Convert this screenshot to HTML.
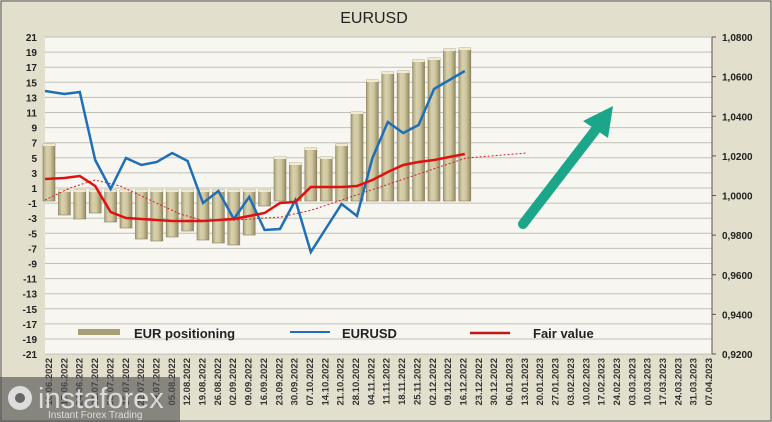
<!DOCTYPE html>
<html><head><meta charset="utf-8"><style>
body{margin:0;width:772px;height:422px;overflow:hidden;background:#fff}
svg{display:block}
text{font-family:"Liberation Sans",sans-serif}
</style></head><body>
<svg id="s" width="772" height="422" xmlns="http://www.w3.org/2000/svg">
<defs>
<linearGradient id="bg" x1="0" x2="1" y1="0" y2="0"><stop offset="0" stop-color="#a89f74"/><stop offset="0.3" stop-color="#d8d1ad"/><stop offset="0.6" stop-color="#cfc7a0"/><stop offset="1" stop-color="#948a60"/></linearGradient>
</defs>
<rect x="0" y="0" width="772" height="422" fill="#e2dfcc"/>
<rect x="1" y="1" width="770" height="420" fill="none" stroke="#555" stroke-width="1"/>
<rect x="45" y="37" width="667" height="317" fill="#f7f6f1"/>
<text x="374" y="23" font-size="16" text-anchor="middle" fill="#222">EURUSD</text>
<g id="grid"></g><g id="bars"></g>
<polyline id="trend" fill="none" stroke="#d42020" stroke-width="1" stroke-dasharray="2,2" points="45,200 70,188 95,180 120,186 150,200 180,214 205,221 235,220 281,217 312,210 466,158 527,153"/>
<polyline id="blue" fill="none" stroke="#1f6fb8" stroke-width="2.5"/>
<polyline id="red" fill="none" stroke="#e01010" stroke-width="2.5"/>
<g id="lab"></g>
<line x1="712" y1="37" x2="712" y2="354" stroke="#555"/>
<g>
<line x1="523" y1="224" x2="597" y2="128" stroke="#1ba68a" stroke-width="10" stroke-linecap="round"/>
<polygon points="613,106 583,121 608,138" fill="#1ba68a"/>
</g>
<rect x="78" y="329" width="42" height="6" fill="#a89f74"/>
<text x="134" y="338" font-size="13" font-weight="bold" fill="#222">EUR positioning</text>
<line x1="290" y1="332" x2="330" y2="332" stroke="#1f6fb8" stroke-width="2"/>
<text x="342" y="338" font-size="13" font-weight="bold" fill="#222">EURUSD</text>
<line x1="470" y1="333" x2="510" y2="333" stroke="#c01818" stroke-width="2.5"/>
<text x="533" y="338" font-size="13" font-weight="bold" fill="#222">Fair value</text>
<rect x="0" y="377" width="180" height="45" fill="#555" opacity="0.65"/>
<circle cx="20" cy="398" r="12" fill="#ddd"/><circle cx="20" cy="398" r="5" fill="#666"/>
<text x="38" y="408" font-size="29" fill="#e6e6e6" opacity="0.9">instaforex</text>
<text x="48" y="418" font-size="10" fill="#ddd">Instant Forex Trading</text>
</svg>
<script>
var ns="http://www.w3.org/2000/svg";
function el(p,t,a,tx){var e=document.createElementNS(ns,t);for(var k in a)e.setAttribute(k,a[k]);if(tx!=null)e.textContent=tx;document.getElementById(p).appendChild(e);return e;}
for(var k=0;k<=21;k++){var y=37+k*15.1;el("grid","line",{x1:45,x2:712,y1:y,y2:y,stroke:"#c0c0b8","stroke-width":1});
el("lab","text",{x:37,y:y+4,"font-size":10,"font-weight":"bold","text-anchor":"end",fill:"#222"},String(21-2*k));}
for(var k=0;k<=8;k++){var y=37+k*317/8;var v=(1.08-k*0.02).toFixed(4).replace(".",",");
el("lab","text",{x:722,y:y+4,"font-size":10,"font-weight":"bold",fill:"#222"},v);
el("lab","line",{x1:712,x2:716,y1:y,y2:y,stroke:"#555"});}
var tops=[144,201,201,201,201,201,201,201,201,201,201,201,201,201,201,157,163,148,157,144,112,80,72,71,60,58,49,48];
var bots=[201,215,219,213,222,228,239,241,237,231,240,243,245,235,206,201,201,201,201,201,201,201,201,201,201,201,201,201];
var blue=[91,94,92,160,189,158,165,162,153,161,203,191,219,197,230,229,200,252,228,204,216,158,122,133,125,89,80,71];
var red=[179,178,176,186,212,218,219,220,221,221,221,220,219,216,213,203,202,187,187,187,186,180,172,165,162,160,157,154];
function X(i){return 49+i*15.4;}
var bp=[],rp=[];
for(var i=0;i<28;i++){var t=tops[i],b=bots[i];if(t==201){t=190;}
el("bars","rect",{x:X(i)-6,y:t,width:12,height:b-t,fill:"url(#bg)",stroke:"#8a8060","stroke-width":0.6});
el("bars","rect",{x:X(i)-6,y:t,width:12,height:2,fill:"#f0ead0"});
bp.push(X(i)+","+blue[i]);rp.push(X(i)+","+red[i]);}
bp[0]="45,91";rp[0]="45,179";
document.getElementById("blue").setAttribute("points",bp.join(" "));
document.getElementById("red").setAttribute("points",rp.join(" "));
var d=new Date(2022,5,10);
for(var i=0;i<44;i++){var dd=new Date(d.getTime()+i*7*864e5);
var s=("0"+dd.getDate()).slice(-2)+"."+("0"+(dd.getMonth()+1)).slice(-2)+"."+dd.getFullYear();
var x=49+i*15.35;
el("lab","text",{x:0,y:0,"font-size":9.5,"font-weight":"bold","text-anchor":"end",fill:"#333",transform:"translate("+(x+3)+",358) rotate(-90)"},s);}
</script>
</body></html>
